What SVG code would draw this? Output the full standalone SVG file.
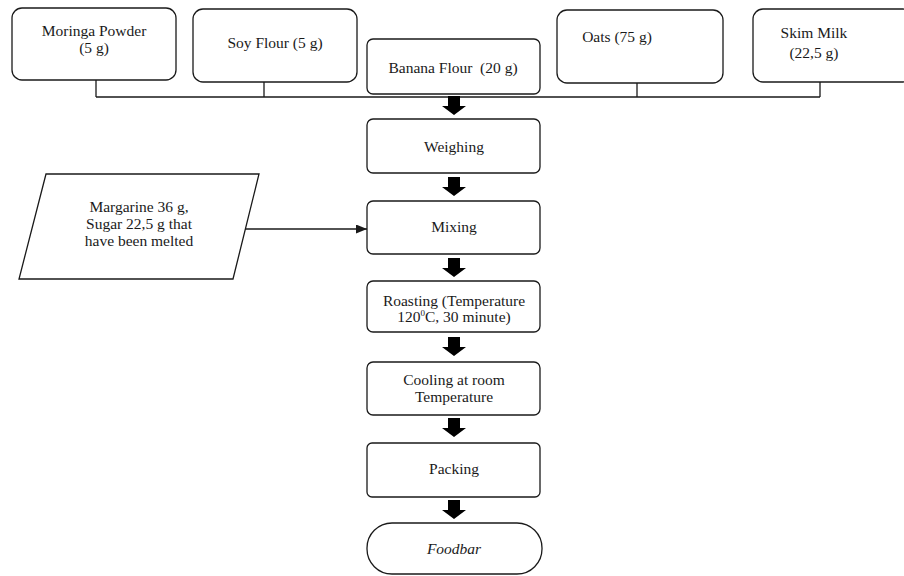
<svg xmlns="http://www.w3.org/2000/svg" width="904" height="576" viewBox="0 0 904 576">
<style>
.box{fill:#fff;stroke:#1a1a1a;stroke-width:1.3}
.ln{fill:none;stroke:#1a1a1a;stroke-width:1.3}
.t{font-family:'Liberation Serif','Times New Roman',Times,serif;font-size:15.5px;fill:#1a1a1a;text-anchor:middle}
.blk{fill:#000}
</style>
<defs>
<marker id="ah" markerWidth="11" markerHeight="9" refX="11" refY="4.5" orient="auto" markerUnits="userSpaceOnUse">
<path d="M0,0 L11,4.5 L0,9 Z" fill="#1a1a1a"/>
</marker>
<path id="barrow" d="M-6,0 H6 V10 H12 L0,19 L-12,10 H-6 Z"/>
</defs>
<rect width="904" height="576" fill="#fff"/>

<g id="connectors">
<path class="ln" d="M96,97 H820 M96,80 V97 M264,82 V97 M637,83 V97 M820,82 V97"/>
<line class="ln" x1="245" y1="229" x2="367" y2="229" marker-end="url(#ah)"/>
<use href="#barrow" class="blk" x="454" y="96"/>
<use href="#barrow" class="blk" x="454" y="177"/>
<use href="#barrow" class="blk" x="454" y="258"/>
<use href="#barrow" class="blk" x="454" y="337"/>
<use href="#barrow" class="blk" x="454" y="418"/>
<use href="#barrow" class="blk" x="454" y="500"/>
</g>

<g font-family="Liberation Serif, serif">
<g id="moringa">
<rect class="box" x="12" y="8" width="164" height="72" rx="10"/>
<text class="t" x="94" y="36">Moringa Powder</text>
<text class="t" x="94" y="53">(5 g)</text>
</g>
<g id="soy">
<rect class="box" x="193" y="9" width="164" height="73" rx="10"/>
<text class="t" x="275" y="48">Soy Flour (5 g)</text>
</g>
<g id="banana">
<rect class="box" x="367" y="39" width="173" height="55" rx="6"/>
<text class="t" x="453" y="73" xml:space="preserve">Banana Flour  (20 g)</text>
</g>
<g id="oats">
<rect class="box" x="557" y="10" width="166" height="73" rx="10"/>
<text class="t" x="617" y="42">Oats (75 g)</text>
</g>
<g id="skim">
<rect class="box" x="753" y="9" width="160" height="73" rx="10"/>
<text class="t" x="814" y="38">Skim Milk</text>
<text class="t" x="814" y="58">(22,5 g)</text>
</g>
<g id="weighing">
<rect class="box" x="367" y="119" width="173" height="54" rx="6"/>
<text class="t" x="454" y="152">Weighing</text>
</g>
<g id="margarine">
<polygon class="box" points="46,174 259,174 233,279 19,279"/>
<text class="t" x="139" y="212">Margarine 36 g,</text>
<text class="t" x="139" y="229">Sugar 22,5 g that</text>
<text class="t" x="139" y="246">have been melted</text>
</g>
<g id="mixing">
<rect class="box" x="367" y="201" width="173" height="53" rx="6"/>
<text class="t" x="454" y="232">Mixing</text>
</g>
<g id="roasting">
<rect class="box" x="367" y="281" width="173" height="51" rx="6"/>
<text class="t" x="454" y="306">Roasting (Temperature</text>
<text class="t" x="454" y="322">120<tspan font-size="9" dy="-6">0</tspan><tspan dy="6">C, 30 minute)</tspan></text>
</g>
<g id="cooling">
<rect class="box" x="367" y="362" width="173" height="53" rx="6"/>
<text class="t" x="454" y="385">Cooling at room</text>
<text class="t" x="454" y="402">Temperature</text>
</g>
<g id="packing">
<rect class="box" x="367" y="443" width="173" height="54" rx="5"/>
<text class="t" x="454" y="474">Packing</text>
</g>
<g id="foodbar">
<rect class="box" x="367" y="523" width="175" height="51" rx="25"/>
<text class="t" x="454" y="554" font-style="italic">Foodbar</text>
</g>
</g>
</svg>
